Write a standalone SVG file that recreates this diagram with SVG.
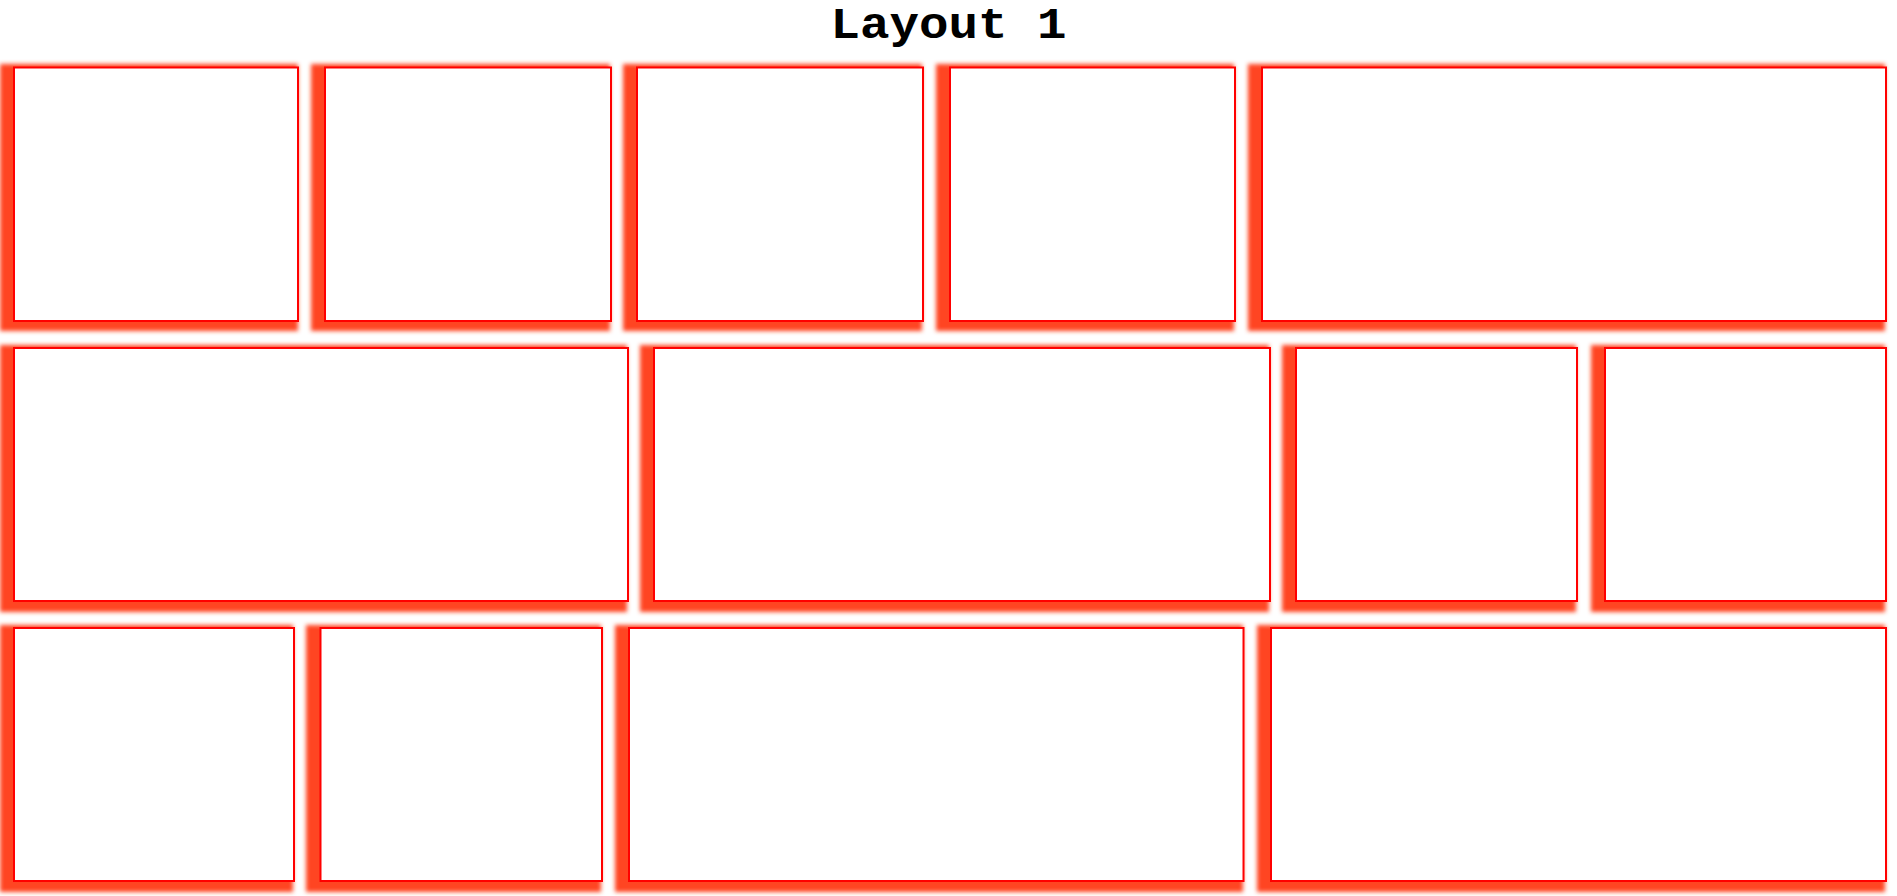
<svg xmlns="http://www.w3.org/2000/svg" width="1897" height="896" viewBox="0 0 1897 896">
  <style>
    .shadow { fill: #ff4422; filter: url(#blur); }
    .panel { fill: #ffffff; stroke: #ff0000; stroke-width: 2; }
    .title { font-family: "Liberation Mono", "Courier New", monospace; font-weight: bold; font-size: 45px; fill: #000000; }
  </style>
  <defs>
    <filter id="blur" x="-5%" y="-5%" width="110%" height="110%">
      <feGaussianBlur stdDeviation="2.3"/>
    </filter>
  </defs>
  <rect x="0" y="0" width="1897" height="896" fill="#ffffff"/>
  <text class="title" x="948.5" y="38" text-anchor="middle" textLength="236" lengthAdjust="spacingAndGlyphs">Layout 1</text>

  <!-- Row 1 -->
  <g id="panel-r1-1"><rect class="shadow" x="0" y="64" width="298" height="267"/><rect class="panel" x="14" y="67.5" width="284" height="253.5"/></g>
  <g id="panel-r1-2"><rect class="shadow" x="311" y="64" width="299" height="267"/><rect class="panel" x="325" y="67.5" width="286" height="253.5"/></g>
  <g id="panel-r1-3"><rect class="shadow" x="623" y="64" width="299" height="267"/><rect class="panel" x="637" y="67.5" width="286" height="253.5"/></g>
  <g id="panel-r1-4"><rect class="shadow" x="936" y="64" width="298" height="267"/><rect class="panel" x="950" y="67.5" width="285" height="253.5"/></g>
  <g id="panel-r1-5"><rect class="shadow" x="1248" y="64" width="637" height="267"/><rect class="panel" x="1262" y="67.5" width="624" height="253.5"/></g>

  <!-- Row 2 -->
  <g id="panel-r2-1"><rect class="shadow" x="0" y="345" width="627" height="267"/><rect class="panel" x="14" y="348" width="614" height="253"/></g>
  <g id="panel-r2-2"><rect class="shadow" x="640" y="345" width="629" height="267"/><rect class="panel" x="654" y="348" width="616" height="253"/></g>
  <g id="panel-r2-3"><rect class="shadow" x="1282" y="345" width="294" height="267"/><rect class="panel" x="1296" y="348" width="281" height="253"/></g>
  <g id="panel-r2-4"><rect class="shadow" x="1591" y="345" width="294" height="267"/><rect class="panel" x="1605" y="348" width="281" height="253"/></g>

  <!-- Row 3 -->
  <g id="panel-r3-1"><rect class="shadow" x="0" y="625" width="293" height="267"/><rect class="panel" x="14" y="628" width="280" height="253"/></g>
  <g id="panel-r3-2"><rect class="shadow" x="306" y="625" width="295" height="267"/><rect class="panel" x="320.5" y="628" width="281.5" height="253"/></g>
  <g id="panel-r3-3"><rect class="shadow" x="615" y="625" width="628" height="267"/><rect class="panel" x="629" y="628" width="614.5" height="253"/></g>
  <g id="panel-r3-4"><rect class="shadow" x="1257" y="625" width="628" height="267"/><rect class="panel" x="1271" y="628" width="615" height="253"/></g>

  <g id="connectors"></g>
</svg>
